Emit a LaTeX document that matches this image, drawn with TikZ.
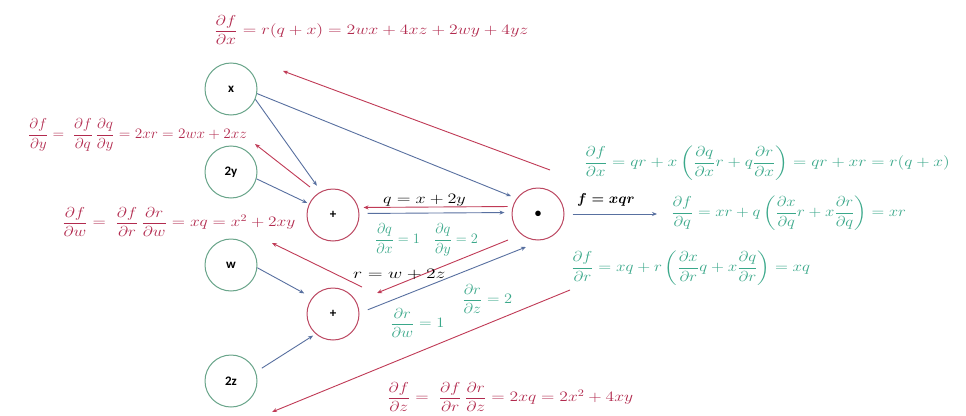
\documentclass[tikz,border=0pt]{standalone}
\usepackage{amsmath}
\usepackage{graphicx}
\usepackage{fontspec}
\newfontfamily\lblfont{Carlito}
\usetikzlibrary{arrows.meta}
\definecolor{redtext}{RGB}{178,42,78}
\definecolor{greentext}{RGB}{58,168,138}
\definecolor{circgreen}{RGB}{105,165,138}
\definecolor{circred}{RGB}{188,72,98}
\definecolor{arrblue}{RGB}{88,112,160}
\definecolor{arrred}{RGB}{192,58,86}
\begin{document}
\begin{tikzpicture}[x=1pt,y=-1pt,
  gnode/.style={circle,draw=circgreen,line width=1pt,minimum size=52pt,inner sep=0pt,font=\lblfont\bfseries\fontsize{13}{15}\selectfont},
  rnode/.style={circle,draw=circred,line width=1pt,minimum size=52pt,inner sep=0pt,font=\lblfont\bfseries\fontsize{13}{15}\selectfont},
  bluearr/.style={draw=arrblue,line width=0.9pt,-{Stealth[length=5pt,width=4pt]}},
  redarr/.style={draw=arrred,line width=0.9pt,-{Stealth[length=5pt,width=4pt]}},
  redf/.style={text=redtext,inner sep=0pt,anchor=west,font=\fontsize{14}{16}\selectfont},
  greenf/.style={text=greentext,inner sep=0pt,anchor=west,font=\fontsize{14}{16}\selectfont},
  blackf/.style={text=black,inner sep=0pt,anchor=base west,font=\fontsize{15}{17}\selectfont}]
\useasboundingbox[fill=white] (0,0) rectangle (966,415);

% nodes
\node[gnode] (nx) at (231,89) {x};
\node[gnode] (n2y) at (231,172) {2y};
\node[gnode] (nw) at (231,265) {w};
\node[gnode] (n2z) at (231,381) {2z};
\node[rnode] (pq) at (333,215) {+};
\node[rnode] (pr) at (333,314) {+};
\node[rnode] (ps) at (538,214) {\textbullet};

% free ends
\coordinate (fout) at (657,214);
\coordinate (bq) at (526,247);
\coordinate (ax1) at (550,170); \coordinate (ax2) at (283,71);
\coordinate (ay1) at (310,187); \coordinate (ay2) at (255,144);
\coordinate (aw1) at (362,287); \coordinate (aw2) at (272,243);
\coordinate (ar1) at (508,240); \coordinate (ar2) at (377,293);
\coordinate (az1) at (570,290); \coordinate (az2) at (272,412);

% forward (blue)
\draw[bluearr,shorten >=6pt] (nx.-10) -- (ps.144);
\draw[bluearr,shorten >=7pt] (nx.-23) -- (pq.117);
\draw[bluearr,shorten >=2pt] (n2y.-15) -- (pq.155);
\draw[bluearr,shorten <=8pt,shorten >=7pt] ([yshift=1.5pt]pq.east) -- ([yshift=1.5pt]ps.west);
\draw[bluearr,shorten <=8pt] (ps.east) -- (fout);
\draw[bluearr,shorten >=9pt] (nw.-6) -- (pr.142);
\draw[bluearr,shorten <=7pt,shorten >=3pt] (n2z.20) -- (pr.229);
\draw[bluearr,shorten <=9pt] (pr.2) -- (bq);

% backward (red)
\draw[redarr] (ax1) -- (ax2);
\draw[redarr] (ay1) -- (ay2);
\draw[redarr,shorten <=4pt,shorten >=4pt] ([yshift=7.5pt]ps.west) -- ([yshift=7.5pt]pq.east);
\draw[redarr] (aw1) -- (aw2);
\draw[redarr] (ar1) -- (ar2);
\draw[redarr] (az1) -- (az2);

% red formulas
\node[redf] (fx) at (214,30) {\scalebox{1.24}[1]{$\dfrac{\partial f}{\partial x} = r(q+x) = 2wx + 4xz + 2wy + 4yz$}};
\node[redf] (fy) at (28,135) {\scalebox{1.06}[1]{$\dfrac{\partial f}{\partial y} =\;\dfrac{\partial f}{\partial q}\,\dfrac{\partial q}{\partial y} = 2xr = 2wx + 2xz$}};
\node[redf] (fw) at (62,222) {\scalebox{1.21}[1]{$\dfrac{\partial f}{\partial w} =\;\dfrac{\partial f}{\partial r}\,\dfrac{\partial r}{\partial w} = xq = x^2 + 2xy$}};
\node[redf] (fz) at (387,397) {\scalebox{1.22}[1]{$\dfrac{\partial f}{\partial z} =\;\dfrac{\partial f}{\partial r}\,\dfrac{\partial r}{\partial z} = 2xq = 2x^2 + 4xy$}};

% green formulas
\node[greenf] (gx) at (584,163) {\scalebox{1.21}[1]{$\dfrac{\partial f}{\partial x} = qr + x\left(\dfrac{\partial q}{\partial x}r + q\dfrac{\partial r}{\partial x}\right) = qr + xr = r(q+x)$}};
\node[greenf] (gq) at (671,213) {\scalebox{1.16}[1]{$\dfrac{\partial f}{\partial q} = xr + q\left(\dfrac{\partial x}{\partial q}r + x\dfrac{\partial r}{\partial q}\right) = xr$}};
\node[greenf] (gr) at (571,268) {\scalebox{1.18}[1]{$\dfrac{\partial f}{\partial r} = xq + r\left(\dfrac{\partial x}{\partial r}q + x\dfrac{\partial q}{\partial r}\right) = xq$}};
\node[greenf] (gqxy) at (375,240) {$\dfrac{\partial q}{\partial x} = 1\quad \dfrac{\partial q}{\partial y} = 2$};
\node[greenf] (grz) at (462,299) {\scalebox{1.14}[1]{$\dfrac{\partial r}{\partial z} = 2$}};
\node[greenf] (grw) at (390,323) {\scalebox{1.15}[1]{$\dfrac{\partial r}{\partial w} = 1$}};

% black labels
\node[blackf] (lq) at (383,203) {\scalebox{1.26}[1]{$q = x + 2y$}};
\node[blackf] (lr) at (353,278) {\scalebox{1.36}[1]{$r = w + 2z$}};
\node[blackf] (lf) at (577,203) {$\boldsymbol{f = xqr}$};
\end{tikzpicture}
\end{document}
